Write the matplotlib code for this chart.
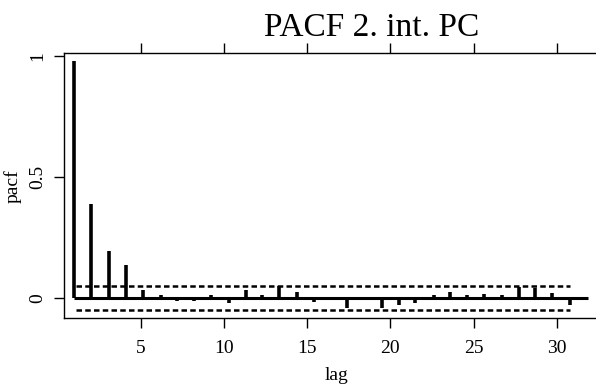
import numpy as np
from matplotlib import pyplot as plt

# bar positions (they drift slightly from the integer ticks)
lag = [1.0, 2.0, 3.1, 4.1, 5.1, 6.2, 7.2, 8.2, 9.2, 10.3,
       11.3, 12.3, 13.3, 14.4, 15.4, 16.4, 17.4, 18.5, 19.5, 20.5,
       21.5, 22.6, 23.6, 24.6, 25.6, 26.7, 27.7, 28.7, 29.7, 30.8]
pacf = [0.979, 0.386, 0.193, 0.133, 0.03, 0.012, -0.012, -0.012, 0.012, -0.02,
        0.033, 0.013, 0.05, 0.022, -0.018, 0.004, -0.043, 0.004, -0.043, -0.03,
        -0.02, 0.013, 0.025, 0.012, 0.015, 0.012, 0.045, 0.04, 0.02, -0.03]
conf = 0.05
xticks = [5, 10, 15, 20, 25, 30]
yticks = [0, 0.5, 1]
yticklabels = ["0", "0.5", "1"]

plt.rcParams['font.family'] = ['Liberation Serif', 'DejaVu Serif']

W, H = 596, 387
fig = plt.figure(figsize=(W / 100, H / 100), dpi=100)
ax = fig.add_axes([64 / W, 1 - 318 / H, (610 - 64) / W, (318 - 53) / H])

ax.vlines(lag, 0, pacf, color='black', lw=2.6)
ax.plot([lag[0], 31.85], [0, 0], color='black', lw=2.2, solid_capstyle='butt')
ax.plot([lag[0] + 0.1, lag[-1]], [conf, conf], color='black', lw=1.8, ls=(0, (2.2, 1.3)))
ax.plot([lag[0] + 0.1, lag[-1]], [-conf, -conf], color='black', lw=1.8, ls=(0, (2.2, 1.3)))

ax.set_xlim(0.38, 33.2)
ax.set_ylim(-0.084, 1.011)

ax.spines['right'].set_visible(False)
for s in ['left', 'bottom', 'top']:
    ax.spines[s].set_linewidth(1.0)

ax.set_xticks(xticks)
ax.set_xticklabels([str(t) for t in xticks], fontsize=14)
ax.set_yticks(yticks)
ax.set_yticklabels(yticklabels, fontsize=14, rotation=90, va='center')
ax.tick_params(axis='x', direction='out', length=7, width=1, pad=9, top=True)
ax.tick_params(axis='y', direction='out', length=7, width=1, pad=6)

fig.text(337 / W, 1 - 375 / H, 'lag', fontsize=14, ha='center', va='center')
fig.text(13 / W, 1 - 186 / H, 'pacf', fontsize=14, ha='center', va='center', rotation=90)
fig.text(372 / W, 1 - 28 / H, 'PACF 2. int. PC', fontsize=24, ha='center', va='center')

fig.savefig('out.png', dpi=100)
